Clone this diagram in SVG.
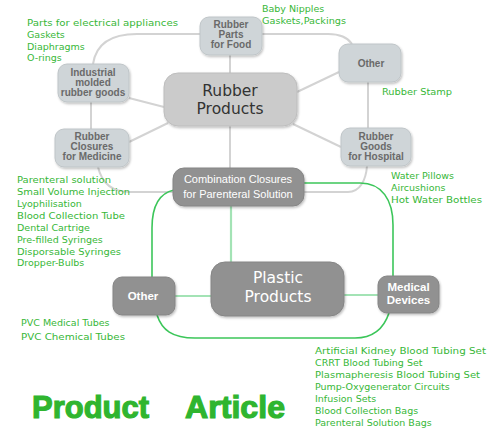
<svg xmlns="http://www.w3.org/2000/svg" width="500" height="441" viewBox="0 0 500 441">
<defs>
<filter id="sh" x="-20%" y="-20%" width="140%" height="150%">
<feDropShadow dx="1" dy="1.5" stdDeviation="1" flood-color="#000" flood-opacity="0.25"/>
</filter>
<style>
.rn{fill:#cfd5d8;stroke:#bfc5c8;stroke-width:1;filter:url(#sh)}
.rp{fill:#cbcbcb;stroke:#bdbdbd;stroke-width:1;filter:url(#sh)}
.pn{fill:#919191;stroke:#858585;stroke-width:1;filter:url(#sh)}
.gl{fill:none;stroke:#d3d3d3;stroke-width:2}
.gg{fill:none;stroke:#3cc65a;stroke-width:1.6}
.gs{fill:none;stroke:#a3e3b5;stroke-width:2.2}
.lt{font-family:"DejaVu Sans","Liberation Sans",sans-serif;font-size:9.5px;fill:#37b737}
.nt{font-family:"Liberation Sans","DejaVu Sans",sans-serif;font-size:10px;font-weight:bold;fill:#6a6a6a;text-anchor:middle}
.wt{font-family:"Liberation Sans","DejaVu Sans",sans-serif;font-size:11px;fill:#fff;text-anchor:middle}
.wb{font-family:"Liberation Sans","DejaVu Sans",sans-serif;font-size:11.5px;font-weight:bold;fill:#fff;text-anchor:middle}
.bt{font-family:"DejaVu Sans","Liberation Sans",sans-serif;font-size:15.5px;text-anchor:middle}
.big{font-family:"Liberation Sans",Arial,sans-serif;font-size:32px;font-weight:bold;fill:#2fb52f;stroke:#2fb52f;stroke-width:1.2}
</style>
</defs>

<g id="connectors">
<path class="gl" d="M93,64 C96,44 110,34 137,34 L200,34"/>
<path class="gl" d="M262,34 L328,34 C340,34 348,38 352,44"/>
<path class="gl" d="M91,102 L91,129"/>
<path class="gl" d="M368,82 L368,128"/>
<path class="gl" d="M98,167 C102,184 112,192 130,192 L173,192"/>
<path class="gl" d="M304,192 L348,192 C360,192 366,180 367,166"/>
<path class="gl" d="M230,55 L230,73"/>
<path class="gl" d="M230,126 L230,168"/>
<path class="gl" d="M129,98 L164,107"/>
<path class="gl" d="M129,142 L168,123"/>
<path class="gl" d="M339,72 L297,92"/>
<path class="gl" d="M341,147 L293,124"/>
<path class="gg" d="M174,190 C160,193 152,206 152,228 L152,277"/>
<path class="gg" d="M157,315 C162,330 172,338 195,338 L355,338 C374,338 384,328 389,313"/>
<path class="gg" d="M304,183 L360,183 C382,183 393,200 393,225 L393,276"/>
<path class="gs" d="M231,206 L231,262"/>
<path class="gs" d="M175,296 L211,296"/>
<path class="gs" d="M344,295 L378,295"/>
</g>

<g id="n-food">
<rect class="rn" x="200" y="17" width="62" height="38" rx="9"/>
<text class="nt"><tspan x="231" y="28">Rubber</tspan><tspan x="231" y="38">Parts</tspan><tspan x="231" y="48">for Food</tspan></text>
</g>
<g id="n-industrial">
<rect class="rn" x="58" y="64" width="71" height="38" rx="9"/>
<text class="nt"><tspan x="93" y="76">Industrial</tspan><tspan x="93" y="86">molded</tspan><tspan x="93" y="96">rubber goods</tspan></text>
</g>
<g id="n-closures">
<rect class="rn" x="55" y="129" width="74" height="38" rx="9"/>
<text class="nt"><tspan x="92" y="140">Rubber</tspan><tspan x="92" y="150">Closures</tspan><tspan x="92" y="160">for Medicine</tspan></text>
</g>
<g id="n-rubber-products">
<rect class="rp" x="164" y="73" width="133" height="53" rx="14"/>
<text class="bt" fill="#333"><tspan x="230" y="96">Rubber</tspan><tspan x="230" y="114">Products</tspan></text>
</g>
<g id="n-other-rubber">
<rect class="rn" x="339" y="44" width="62" height="38" rx="9"/>
<text class="nt" x="371" y="67" font-size="12">Other</text>
</g>
<g id="n-hospital">
<rect class="rn" x="341" y="128" width="70" height="38" rx="9"/>
<text class="nt"><tspan x="376" y="140">Rubber</tspan><tspan x="376" y="150">Goods</tspan><tspan x="376" y="160">for Hospital</tspan></text>
</g>
<g id="n-combination">
<rect class="pn" x="173" y="168" width="131" height="38" rx="11"/>
<text class="wt"><tspan x="238" y="183">Combination Closures</tspan><tspan x="238" y="198">for Parenteral Solution</tspan></text>
</g>
<g id="n-plastic-products">
<rect class="pn" x="211" y="262" width="133" height="54" rx="14"/>
<text class="bt" fill="#fff"><tspan x="278" y="283">Plastic</tspan><tspan x="278" y="302">Products</tspan></text>
</g>
<g id="n-other-plastic">
<rect class="pn" x="113" y="277" width="62" height="38" rx="9"/>
<text class="wb" x="143" y="300">Other</text>
</g>
<g id="n-medical">
<rect class="pn" x="378" y="276" width="61" height="37" rx="9"/>
<text class="wb"><tspan x="408.5" y="291">Medical</tspan><tspan x="408.5" y="304">Devices</tspan></text>
</g>

<g id="labels">
<text class="lt" x="27" y="26" textLength="151" lengthAdjust="spacingAndGlyphs">Parts for electrical appliances</text>
<text class="lt" x="27" y="38">Gaskets</text>
<text class="lt" x="27" y="49.5">Diaphragms</text>
<text class="lt" x="27" y="61">O-rings</text>
<text class="lt" x="262" y="12">Baby Nipples</text>
<text class="lt" x="262" y="24" textLength="84" lengthAdjust="spacingAndGlyphs">Gaskets,Packings</text>
<text class="lt" x="382" y="95" textLength="70" lengthAdjust="spacingAndGlyphs">Rubber Stamp</text>
<text class="lt" x="391" y="179">Water Pillows</text>
<text class="lt" x="391" y="191">Aircushions</text>
<text class="lt" x="391" y="203" textLength="91" lengthAdjust="spacingAndGlyphs">Hot Water Bottles</text>
<text class="lt" x="17" y="183" textLength="94" lengthAdjust="spacingAndGlyphs">Parenteral solution</text>
<text class="lt" x="17" y="195" textLength="113" lengthAdjust="spacingAndGlyphs">Small Volume Injection</text>
<text class="lt" x="17" y="207">Lyophilisation</text>
<text class="lt" x="17" y="219" textLength="108" lengthAdjust="spacingAndGlyphs">Blood Collection Tube</text>
<text class="lt" x="17" y="230.5">Dental Cartrige</text>
<text class="lt" x="17" y="242.5">Pre-filled Syringes</text>
<text class="lt" x="17" y="254.5" textLength="104" lengthAdjust="spacingAndGlyphs">Disporsable Syringes</text>
<text class="lt" x="17" y="266">Dropper-Bulbs</text>
<text class="lt" x="21" y="326">PVC Medical Tubes</text>
<text class="lt" x="21" y="339.5" textLength="104" lengthAdjust="spacingAndGlyphs">PVC Chemical Tubes</text>
<text class="lt" x="315" y="354" textLength="171" lengthAdjust="spacingAndGlyphs">Artificial Kidney Blood Tubing Set</text>
<text class="lt" x="315" y="366">CRRT Blood Tubing Set</text>
<text class="lt" x="315" y="378" textLength="165" lengthAdjust="spacingAndGlyphs">Plasmapheresis Blood Tubing Set</text>
<text class="lt" x="315" y="390">Pump-Oxygenerator Circuits</text>
<text class="lt" x="315" y="402">Infusion Sets</text>
<text class="lt" x="315" y="414">Blood Collection Bags</text>
<text class="lt" x="315" y="426">Parenteral Solution Bags</text>
<text class="big" x="32" y="418" textLength="117" lengthAdjust="spacingAndGlyphs">Product</text>
<text class="big" x="185" y="418" textLength="100" lengthAdjust="spacingAndGlyphs">Article</text>
</g>
</svg>
